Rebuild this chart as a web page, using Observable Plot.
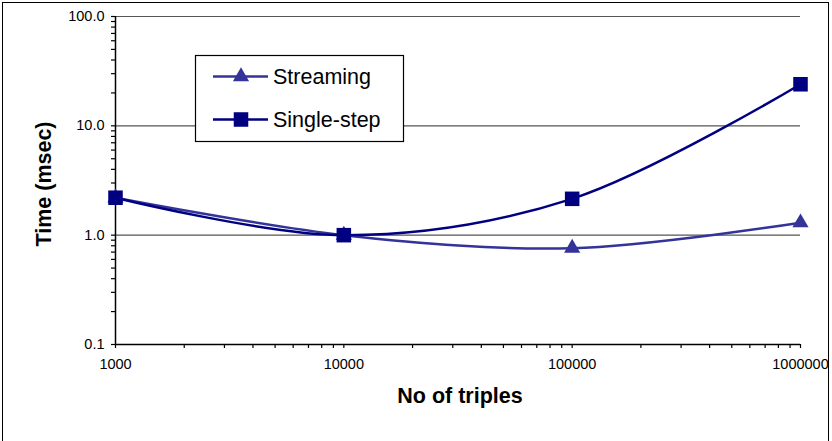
<!DOCTYPE html>
<html>
<head>
<meta charset="utf-8">
<script src="https://cdn.jsdelivr.net/npm/d3@7"></script>
<script src="https://cdn.jsdelivr.net/npm/@observablehq/plot@0.6"></script>
<style>
  html, body { margin: 0; padding: 0; background: white; }
  #wrap { position: relative; width: 832px; height: 441px; overflow: hidden; background: white;
          font-family: Arial, "Liberation Sans", sans-serif; }
  #wrap svg.plot { position: absolute; left: 0; top: 0; }
  #border { position: absolute; left: 2px; top: 2px; width: 827px; height: 470px; border: 1.5px solid #000; box-sizing: border-box; pointer-events: none; }
  #legend { position: absolute; left: 195px; top: 55px; width: 209px; height: 87px; }
  .title { position: absolute; font-weight: bold; font-size: 21.5px; color: #000; white-space: nowrap; }
</style>
</head>
<body>
<div id="wrap">
  <div id="border"></div>
</div>
<script>
// ---- data ----
const triples = [1000, 10000, 100000, 1000000];
const streaming = [2.2, 1.0, 0.76, 1.3];
const singleStep = [2.2, 1.0, 2.15, 24];
const seriesNames = ["Streaming", "Single-step"];
const seriesColors = ["#333399", "#000080"];
const xMajor = [1000, 10000, 100000, 1000000];
const yMajor = [0.1, 1, 10, 100];
const xTitle = "No of triples";
const yTitle = "Time (msec)";

const rows = [];
triples.forEach((t, i) => {
  rows.push({x: t, y: streaming[i], s: seriesNames[0]});
  rows.push({x: t, y: singleStep[i], s: seriesNames[1]});
});
const sData = rows.filter(d => d.s === seriesNames[0]);
const qData = rows.filter(d => d.s === seriesNames[1]);

const minor = arr => arr.slice(0, -1).flatMap(v => d3.range(1, 10).map(k => v * k)).concat([arr[arr.length - 1]]);
const xTicks = minor(xMajor);
const yTicks = minor(yMajor);
const isMajor = (arr, d) => arr.some(v => Math.abs(v - d) / v < 1e-9);

const chart = Plot.plot({
  width: 832,
  height: 441,
  marginLeft: 115,
  marginRight: 32,
  marginTop: 16,
  marginBottom: 97,
  style: {fontFamily: "Arial, 'Liberation Sans', sans-serif", fontSize: "14.5px", background: "transparent", color: "#000", overflow: "visible"},
  x: {type: "log", domain: [1000, 1000000]},
  y: {type: "log", domain: [0.1, 100]},
  marks: [
    Plot.ruleY(yMajor.slice(1), {stroke: "#555", strokeWidth: 1.2}),
    Plot.axisX({ticks: xTicks, tickSize: 4, tickPadding: 10, label: null, stroke: "#000", strokeWidth: 1.2,
      tickFormat: d => isMajor(xMajor, d) ? String(d) : ""}),
    Plot.axisY({ticks: yTicks, tickSize: 4, tickPadding: 7, label: null, stroke: "#000", strokeWidth: 1.2,
      tickFormat: d => isMajor(yMajor, d) ? d.toFixed(1) : ""}),
    Plot.ruleX([1000], {stroke: "#000", strokeWidth: 1.5}),
    Plot.ruleY([0.1], {stroke: "#000", strokeWidth: 1.5}),
    Plot.line(sData, {x: "x", y: "y", stroke: seriesColors[0], strokeWidth: 2.5, curve: "catmull-rom"}),
    Plot.line(qData, {x: "x", y: "y", stroke: seriesColors[1], strokeWidth: 2.5, curve: "catmull-rom"}),
    Plot.dot(sData, {x: "x", y: "y", symbol: "triangle", r: 6, fill: seriesColors[0], stroke: "none"}),
    Plot.dot(qData, {x: "x", y: "y", symbol: "square", r: 8.2, fill: seriesColors[1], stroke: "none"})
  ]
});
chart.classList.add("plot");
const wrap = document.getElementById("wrap");
wrap.insertBefore(chart, wrap.firstChild);

// legend
const lg = document.createElement("div");
lg.id = "legend";
const tri = d3.symbol(d3.symbolTriangle, Math.PI * 36)();
const sq = d3.symbol(d3.symbolSquare, Math.PI * 8.2 * 8.2)();
lg.innerHTML = `<svg width="209" height="87" style="overflow:visible">
  <rect x="0.5" y="0.5" width="208" height="86" fill="white" stroke="#000" stroke-width="1.2"/>
  <line x1="18" x2="73" y1="21.5" y2="21.5" stroke="${seriesColors[0]}" stroke-width="2.5"/>
  <path d="${tri}" transform="translate(46,21.5)" fill="${seriesColors[0]}"/>
  <text x="78" y="21.5" dy="0.36em" font-size="21.5" font-family="Arial, 'Liberation Sans', sans-serif">${seriesNames[0]}</text>
  <line x1="18" x2="73" y1="64.5" y2="64.5" stroke="${seriesColors[1]}" stroke-width="2.5"/>
  <path d="${sq}" transform="translate(46,64.5)" fill="${seriesColors[1]}"/>
  <text x="78" y="64.5" dy="0.36em" font-size="21.5" font-family="Arial, 'Liberation Sans', sans-serif">${seriesNames[1]}</text>
</svg>`;
wrap.appendChild(lg);

// axis titles
const xt = document.createElement("div");
xt.className = "title";
xt.textContent = xTitle;
xt.style.left = "460px"; xt.style.top = "396px";
xt.style.transform = "translate(-50%, -50%)";
wrap.appendChild(xt);

const yt = document.createElement("div");
yt.className = "title";
yt.textContent = yTitle;
yt.style.left = "44px"; yt.style.top = "184px";
yt.style.transform = "translate(-50%, -50%) rotate(-90deg)";
wrap.appendChild(yt);
</script>
</body>
</html>
